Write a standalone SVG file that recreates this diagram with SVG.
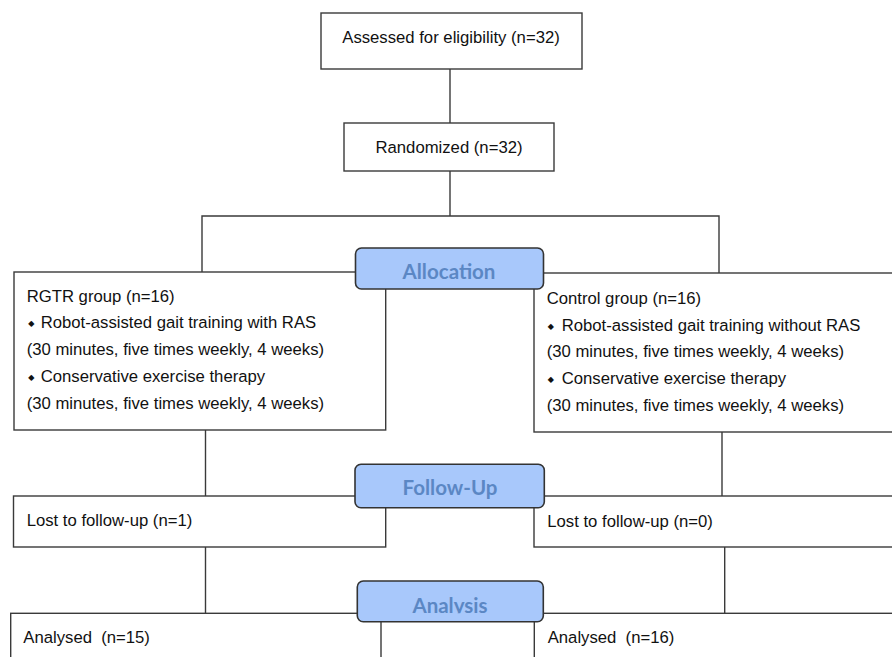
<svg xmlns="http://www.w3.org/2000/svg" width="892" height="657" viewBox="0 0 892 657">
<defs>
<style>
.box{fill:#ffffff;stroke:#3a3a3a;stroke-width:1.4}
.badge{fill:#a8c8fb;stroke:#333333;stroke-width:1.6}
.ln{stroke:#3a3a3a;stroke-width:1.4;fill:none}
.t{font-family:"Liberation Sans",Arial,sans-serif;font-size:16.7px;fill:#111111}
.c{text-anchor:middle}
.bl{font-family:"DejaVu Sans",sans-serif;font-size:8px;fill:#111111}
.bt{font-family:Lato,"Open Sans",sans-serif;font-weight:bold;font-size:20.5px;fill:#5b87c4;text-anchor:middle}
</style>
<clipPath id="clipA"><rect x="357" y="581" width="187" height="32.3"/></clipPath>
</defs>
<rect width="892" height="657" fill="#ffffff"/>
<g id="connectors">
<line class="ln" x1="450" y1="69" x2="450" y2="123"/>
<line class="ln" x1="450" y1="171" x2="450" y2="216"/>
<polyline class="ln" points="202,272 202,216 719,216 719,273"/>
<line class="ln" x1="205.5" y1="430" x2="205.5" y2="496"/>
<line class="ln" x1="722" y1="432" x2="722" y2="496"/>
<line class="ln" x1="205.5" y1="547" x2="205.5" y2="613"/>
<line class="ln" x1="724.7" y1="547" x2="724.7" y2="613"/>
</g>
<g id="assessed">
<rect class="box" x="321" y="13" width="261" height="56"/>
<text class="t c" x="451" y="43">Assessed for eligibility (n=32)</text>
</g>
<g id="randomized">
<rect class="box" x="344" y="123" width="210" height="48"/>
<text class="t c" x="449" y="152.5">Randomized (n=32)</text>
</g>
<g id="rgtr">
<rect class="box" x="14" y="272" width="371.7" height="158"/>
<text class="t" x="26.7" y="301.5">RGTR group (n=16)</text>
<text class="bl" x="28.3" y="326">◆</text>
<text class="t" x="40.7" y="328">Robot-assisted gait training with RAS</text>
<text class="t" x="26.7" y="355">(30 minutes, five times weekly, 4 weeks)</text>
<text class="bl" x="28.3" y="379.5">◆</text>
<text class="t" x="40.7" y="381.5">Conservative exercise therapy</text>
<text class="t" x="26.7" y="408.5">(30 minutes, five times weekly, 4 weeks)</text>
</g>
<g id="control">
<rect class="box" x="534" y="273" width="400" height="159"/>
<text class="t" x="546.7" y="304.3">Control group (n=16)</text>
<text class="bl" x="547.8" y="328.5">◆</text>
<text class="t" x="561.7" y="330.5">Robot-assisted gait training without RAS</text>
<text class="t" x="546.7" y="357.3">(30 minutes, five times weekly, 4 weeks)</text>
<text class="bl" x="547.8" y="382">◆</text>
<text class="t" x="561.7" y="384">Conservative exercise therapy</text>
<text class="t" x="546.7" y="410.8">(30 minutes, five times weekly, 4 weeks)</text>
</g>
<g id="allocation">
<rect class="badge" x="355.5" y="248" width="188" height="41" rx="6"/>
<text class="bt" x="449" y="279">Allocation</text>
</g>
<g id="lost-left">
<rect class="box" x="13.5" y="496" width="372.2" height="51"/>
<text class="t" x="26.7" y="526">Lost to follow-up (n=1)</text>
</g>
<g id="lost-right">
<rect class="box" x="534" y="496" width="400" height="51"/>
<text class="t" x="547.3" y="527">Lost to follow-up (n=0)</text>
</g>
<g id="followup">
<rect class="badge" x="355" y="464.3" width="189.3" height="43.4" rx="6"/>
<text class="bt" x="450" y="495">Follow-Up</text>
</g>
<g id="analysed-left">
<rect class="box" x="10.7" y="613.3" width="370.3" height="60"/>
<text class="t" x="23.3" y="643" xml:space="preserve">Analysed  (n=15)</text>
</g>
<g id="analysed-right">
<rect class="box" x="534.3" y="613.3" width="400" height="60"/>
<text class="t" x="547.7" y="643.3" xml:space="preserve">Analysed  (n=16)</text>
</g>
<g id="analysis">
<rect class="badge" x="357.3" y="581" width="186" height="40.7" rx="6"/>
<text class="bt" x="450" y="612.5" clip-path="url(#clipA)">Analysis</text>
</g>
</svg>
